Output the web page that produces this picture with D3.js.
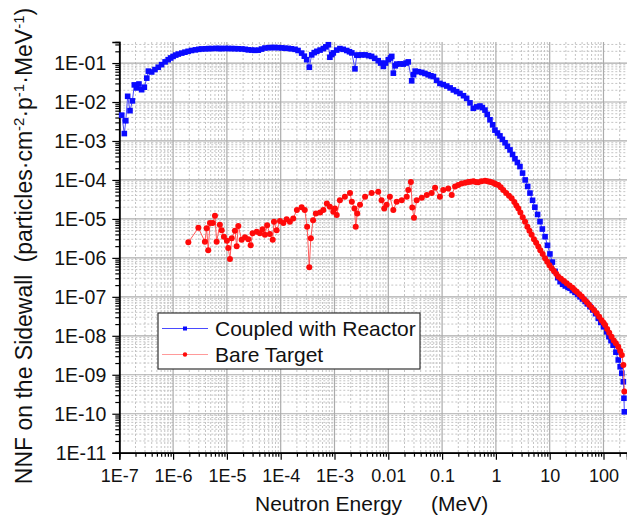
<!DOCTYPE html>
<html>
<head>
<meta charset="utf-8">
<script src="https://cdn.jsdelivr.net/npm/d3@7"></script>
<style>
  body { margin: 0; background: #fff; }
  svg { display: block; font-family: Arial, 'Liberation Sans', sans-serif; }
</style>
</head>
<body>
<div id="chart"></div>
<script>
// [energy (MeV), NNF]
const reactor = [
  [1.11e-7, 4.6e-3], [1.24e-7, 1.55e-3], [1.32e-7, 3.3e-3], [1.43e-7, 1.4e-2], [1.58e-7, 6.0e-3],
  [1.75e-7, 1.07e-2], [1.9e-7, 2.75e-2], [2.1e-7, 2.3e-2], [2.32e-7, 2.9e-2], [2.6e-7, 2.07e-2],
  [2.92e-7, 2.4e-2], [3.24e-7, 4.1e-2], [3.47e-7, 6.2e-2], [4.0e-7, 5.9e-2], [4.6e-7, 6.8e-2],
  [5.3e-7, 7.8e-2], [6.1e-7, 9.1e-2], [7.1e-7, 0.107], [8.1e-7, 0.122], [9.0e-7, 0.135],
  [1.0e-6, 0.148], [1.12e-6, 0.16], [1.25e-6, 0.17], [1.45e-6, 0.18], [1.66e-6, 0.19],
  [1.9e-6, 0.20], [2.2e-6, 0.21], [2.6e-6, 0.218], [3.0e-6, 0.225], [3.4e-6, 0.23],
  [4.0e-6, 0.232], [4.6e-6, 0.235], [5.2e-6, 0.235], [6.3e-6, 0.238], [7.2e-6, 0.236],
  [8.0e-6, 0.235], [9.3e-6, 0.237], [1.07e-5, 0.236], [1.23e-5, 0.235], [1.41e-5, 0.234],
  [1.62e-5, 0.232], [1.9e-5, 0.23], [2.2e-5, 0.225], [2.5e-5, 0.218], [2.9e-5, 0.215],
  [3.3e-5, 0.212], [3.84e-5, 0.214], [4.4e-5, 0.228], [5.1e-5, 0.243], [6.0e-5, 0.248],
  [6.9e-5, 0.25], [7.8e-5, 0.25], [9.1e-5, 0.248], [1.05e-4, 0.245], [1.2e-4, 0.24],
  [1.38e-4, 0.238], [1.58e-4, 0.232], [1.85e-4, 0.225], [2.1e-4, 0.21], [2.45e-4, 0.18],
  [2.75e-4, 0.15], [3.04e-4, 0.122], [3.4e-4, 0.078], [3.77e-4, 0.162], [4.2e-4, 0.185],
  [4.7e-4, 0.20], [5.4e-4, 0.215], [6.2e-4, 0.235], [6.9e-4, 0.26], [7.7e-4, 0.295],
  [8.2e-4, 0.141], [8.9e-4, 0.165], [9.5e-4, 0.182], [1.1e-3, 0.215], [1.26e-3, 0.235],
  [1.45e-3, 0.225], [1.69e-3, 0.21], [1.9e-3, 0.195], [2.1e-3, 0.182], [2.4e-3, 0.071],
  [2.6e-3, 0.16], [2.77e-3, 0.158], [3.2e-3, 0.162], [3.7e-3, 0.162], [4.3e-3, 0.155],
  [4.9e-3, 0.148], [5.6e-3, 0.132], [6.5e-3, 0.115], [7.2e-3, 0.10], [8.1e-3, 0.082],
  [8.9e-3, 0.10], [1.0e-2, 0.122], [1.1e-2, 0.135], [1.16e-2, 0.148], [1.24e-2, 0.055],
  [1.35e-2, 0.085], [1.43e-2, 0.094], [1.66e-2, 0.095], [1.9e-2, 0.094], [2.14e-2, 0.10],
  [2.35e-2, 0.107], [2.72e-2, 0.035], [2.95e-2, 0.05], [3.16e-2, 0.062], [3.63e-2, 0.06],
  [4.2e-2, 0.0575], [4.8e-2, 0.054], [5.5e-2, 0.05], [6.2e-2, 0.047], [6.9e-2, 0.045],
  [7.9e-2, 0.036], [9.1e-2, 0.030], [0.105, 0.028], [0.122, 0.0257], [0.141, 0.023],
  [0.162, 0.0204], [0.186, 0.0185], [0.215, 0.0166], [0.25, 0.0145], [0.286, 0.0124],
  [0.33, 0.0095], [0.38, 0.0069], [0.44, 0.0075], [0.506, 0.0079], [0.56, 0.0072],
  [0.627, 0.0062], [0.69, 0.0048], [0.776, 0.0035], [0.87, 0.0026], [0.96, 0.0019],
  [1.07, 1.6e-3], [1.19, 1.35e-3], [1.32, 1.1e-3], [1.48, 9.0e-4], [1.64, 7.3e-4],
  [1.83, 5.9e-4], [2.04, 4.5e-4], [2.26, 3.5e-4], [2.51, 2.8e-4], [2.8, 2.2e-4],
  [3.13, 1.5e-4], [3.5, 1.0e-4], [3.9, 6.8e-5], [4.3, 4.6e-5], [4.8, 3.0e-5],
  [5.3, 2.0e-5], [5.96, 1.3e-5], [6.6, 8.5e-6], [7.3, 5.5e-6], [8.2, 3.5e-6],
  [9.1, 2.1e-6], [10.1, 1.26e-6], [11.2, 7.8e-7], [12.6, 4.5e-7], [14.1, 3.1e-7],
  [15.6, 2.45e-7], [17.4, 2.1e-7], [19.5, 1.9e-7], [21.9, 1.75e-7], [23.9, 1.66e-7],
  [26.3, 1.45e-7], [29.5, 1.3e-7], [33.1, 1.15e-7], [36.6, 1.0e-7], [40.7, 8.8e-8],
  [45.7, 7.6e-8], [50.1, 6.6e-8], [56, 5.6e-8], [63, 4.6e-8], [71, 3.7e-8],
  [80, 2.8e-8], [89, 2.2e-8], [100, 1.7e-8], [115, 1.26e-8], [126, 9.5e-9],
  [138, 7.5e-9], [151, 5.75e-9], [170, 3.8e-9], [188, 2.4e-9], [204, 1.6e-9],
  [219, 1.1e-9], [234, 6.6e-10], [240, 2.5e-10], [244, 1.12e-10]
]

const bare = [
  [1.92e-6, 2.5e-6], [2.95e-6, 5.9e-6], [3.9e-6, 2.6e-6], [4.2e-6, 5.75e-6], [4.5e-6, 1.58e-6],
  [4.85e-6, 7.9e-6], [5.45e-6, 7.9e-6], [6.0e-6, 1.2e-5], [6.45e-6, 2.6e-6], [7.4e-6, 7.1e-6],
  [8.0e-6, 5.1e-6], [8.8e-6, 3.5e-6], [1.0e-5, 2.75e-6], [1.06e-5, 1.78e-6], [1.14e-5, 9.3e-7],
  [1.23e-5, 3.2e-6], [1.41e-5, 5.0e-6], [1.52e-5, 2.0e-6], [1.63e-5, 6.6e-6], [1.88e-5, 2.9e-6],
  [2.17e-5, 3.4e-6], [2.5e-5, 3.0e-6], [2.77e-5, 2.1e-6], [3.0e-5, 4.3e-6], [3.58e-5, 4.7e-6],
  [4.1e-5, 4.3e-6], [4.6e-5, 5.4e-6], [5.1e-5, 3.9e-6], [5.6e-5, 6.9e-6], [6.3e-5, 4.1e-6],
  [7.1e-5, 2.9e-6], [7.5e-5, 8.5e-6], [8.4e-5, 5.1e-6], [9.7e-5, 8.9e-6], [1.12e-4, 7.8e-6],
  [1.29e-4, 9.8e-6], [1.48e-4, 8.5e-6], [1.71e-4, 1.03e-5], [2.0e-4, 1.7e-5], [2.45e-4, 2.0e-5],
  [2.8e-4, 1.7e-5], [3.1e-4, 6.3e-6], [3.4e-4, 5.75e-7], [3.63e-4, 3.2e-6], [4.0e-4, 9.3e-6],
  [4.5e-4, 1.38e-5], [5.4e-4, 1.45e-5], [6.2e-4, 1.7e-5], [7.2e-4, 2.5e-5], [8.2e-4, 2.05e-5],
  [9.5e-4, 1.53e-5], [1.02e-3, 1.86e-5], [1.1e-3, 1.26e-5], [1.26e-3, 3.0e-5], [1.56e-3, 3.7e-5],
  [1.94e-3, 4.6e-5], [2.1e-3, 2.75e-5], [2.35e-3, 1.86e-5], [2.48e-3, 6.3e-6], [2.65e-3, 1.38e-5],
  [2.98e-3, 2.3e-5], [3.7e-3, 3.7e-5], [4.9e-3, 4.6e-5], [6.5e-3, 5.0e-5], [7.5e-3, 3.0e-5],
  [8.4e-3, 1.86e-5], [9.3e-3, 2.3e-5], [1.07e-2, 3.7e-5], [1.24e-2, 1.7e-5], [1.43e-2, 2.75e-5],
  [1.78e-2, 3.0e-5], [2.2e-2, 3.7e-5], [2.35e-2, 5.5e-5], [2.63e-2, 8.9e-5], [2.79e-2, 1.95e-5],
  [3.0e-2, 1.07e-5], [3.37e-2, 3.0e-5], [4.2e-2, 3.5e-5], [5.2e-2, 4.1e-5], [6.4e-2, 4.6e-5],
  [7.4e-2, 6.3e-5], [9.1e-2, 3.7e-5], [0.105, 5.5e-5], [0.13, 6.0e-5], [0.151, 4.1e-5],
  [0.174, 6.8e-5], [0.2, 7.4e-5], [0.231, 8.1e-5], [0.27, 8.5e-5], [0.307, 8.9e-5],
  [0.34, 9.0e-5], [0.38, 9.3e-5], [0.42, 8.9e-5], [0.47, 8.7e-5], [0.54, 9.2e-5],
  [0.627, 9.5e-5], [0.70, 9.3e-5], [0.76, 9.0e-5], [0.836, 8.7e-5], [0.93, 8.2e-5],
  [1.0, 7.8e-5], [1.11, 7.4e-5], [1.23, 6.5e-5], [1.37, 5.5e-5], [1.55, 4.6e-5],
  [1.75, 3.9e-5], [1.96, 3.4e-5], [2.2, 2.7e-5], [2.4, 2.2e-5], [2.61, 1.86e-5],
  [2.85, 1.45e-5], [3.15, 1.1e-5], [3.48, 8.5e-6], [3.85, 6.3e-6], [4.2, 5.0e-6],
  [4.62, 3.9e-6], [5.1, 3.0e-6], [5.6, 2.45e-6], [6.15, 1.95e-6], [6.7, 1.58e-6],
  [7.4, 1.25e-6], [8.2, 9.8e-7], [9.0, 7.9e-7], [9.9, 6.5e-7], [10.9, 5.4e-7],
  [12.0, 4.6e-7], [13.2, 3.9e-7], [14.5, 3.3e-7], [16.2, 2.9e-7], [18.4, 2.55e-7],
  [20.7, 2.24e-7], [23.4, 1.95e-7], [26.5, 1.7e-7], [29, 1.5e-7], [31.8, 1.35e-7],
  [35.5, 1.17e-7], [39.5, 1.02e-7], [44, 8.6e-8], [48.8, 7.4e-8], [54, 6.3e-8],
  [60, 5.3e-8], [67, 4.5e-8], [74.8, 3.8e-8], [83, 3.1e-8], [92, 2.5e-8],
  [100, 2.15e-8], [107, 1.9e-8], [117, 1.5e-8], [128, 1.2e-8], [141, 9.5e-9],
  [155, 7.6e-9], [170, 6.4e-9], [188, 5.25e-9], [204, 4.1e-9], [219, 3.2e-9],
  [234, 1.78e-9], [244, 3.7e-10]
]

const xTicks = [1e-7, 1e-6, 1e-5, 1e-4, 1e-3, 0.01, 0.1, 1, 10, 100]
const xTickLabels = ['1E-7', '1E-6', '1E-5', '1E-4', '1E-3', '0.01', '0.1', '1', '10', '100']
const yTicks = [1e-1, 1e-2, 1e-3, 1e-4, 1e-5, 1e-6, 1e-7, 1e-8, 1e-9, 1e-10, 1e-11]
const yTickLabels = ['1E-01', '1E-02', '1E-03', '1E-04', '1E-05', '1E-06', '1E-07', '1E-08', '1E-09', '1E-10', '1E-11']

const width = 627
const height = 517
const plotLeft = 119.3
const plotTop = 42
const plotBottom = 452.7
const decadeX = 53.8

const x = d3.scaleLog()
  .domain([1e-7, 1e-7 * Math.pow(10, (width - plotLeft) / decadeX)])
  .range([plotLeft, width])

const y = d3.scaleLog()
  .domain([1e-11, Math.pow(10, -0.46)])
  .range([plotBottom, plotTop])

const svg = d3.select('#chart')
  .append('svg')
  .attr('width', width)
  .attr('height', height)

// minor ticks: 2..9 within each decade
function minors(lo, hi) {
  const out = []
  for (let e = lo; e < hi; e++) {
    for (let m = 2; m <= 9; m++) out.push(m * Math.pow(10, e))
  }
  return out
}
const xMinor = minors(-7, 3).filter(v => x(v) <= width)
const yMinor = minors(-11, 0).filter(v => y(v) >= plotTop)

const grid = svg.append('g')
grid.selectAll('.vminor')
  .data(xMinor)
  .enter()
  .append('line')
  .attr('x1', d => x(d)).attr('x2', d => x(d))
  .attr('y1', plotTop).attr('y2', plotBottom)
  .attr('stroke', '#c4c4c4')
  .attr('stroke-dasharray', '2,2')
grid.selectAll('.hminor')
  .data(yMinor)
  .enter()
  .append('line')
  .attr('x1', plotLeft).attr('x2', width)
  .attr('y1', d => y(d)).attr('y2', d => y(d))
  .attr('stroke', '#c4c4c4')
  .attr('stroke-dasharray', '2,2')
grid.selectAll('.vmajor')
  .data(xTicks)
  .enter()
  .append('line')
  .attr('x1', d => x(d)).attr('x2', d => x(d))
  .attr('y1', plotTop).attr('y2', plotBottom)
  .attr('stroke', '#ababab')
  .attr('stroke-width', 1.2)
grid.selectAll('.hmajor')
  .data(yTicks)
  .enter()
  .append('line')
  .attr('x1', plotLeft).attr('x2', width)
  .attr('y1', d => y(d)).attr('y2', d => y(d))
  .attr('stroke', '#ababab')
  .attr('stroke-width', 1.2)

// axes
const xAxis = svg.append('g')
  .attr('transform', `translate(0,${plotBottom})`)
xAxis.append('g')
  .call(d3.axisBottom(x).tickValues(xMinor).tickSize(4).tickFormat(''))
xAxis.append('g')
  .call(d3.axisBottom(x).tickValues(xTicks).tickSize(7).tickFormat((d, i) => xTickLabels[i]))
  .selectAll('text')
  .attr('dy', 0)
  .attr('y', 29)
  .style('font-size', '18px')
  .style('fill', '#111')
xAxis.selectAll('.domain').attr('stroke', '#000').attr('stroke-width', 1.5)
xAxis.selectAll('.tick line').attr('stroke', '#000').attr('stroke-width', 1.2)

const yAxis = svg.append('g')
  .attr('transform', `translate(${plotLeft},0)`)
yAxis.append('g')
  .call(d3.axisLeft(y).tickValues(yMinor).tickSize(4).tickFormat(''))
yAxis.append('g')
  .call(d3.axisLeft(y).tickValues(yTicks).tickSize(7).tickFormat((d, i) => yTickLabels[i]))
  .selectAll('text')
  .attr('x', -13)
  .attr('dy', '0.35em')
  .style('font-size', '19.5px')
  .style('fill', '#111')
yAxis.selectAll('.domain').attr('stroke', '#000').attr('stroke-width', 1.5)
yAxis.selectAll('.tick line').attr('stroke', '#000').attr('stroke-width', 1.2)
svg.selectAll('.domain').attr('fill', 'none')

// series
const line = d3.line()
  .x(d => x(d[0]))
  .y(d => y(d[1]))

svg.append('path')
  .datum(reactor)
  .attr('d', line)
  .attr('fill', 'none')
  .attr('stroke', '#4a4aff')
  .attr('stroke-width', 1)

svg.append('g')
  .selectAll('rect')
  .data(reactor)
  .enter()
  .append('rect')
  .attr('x', d => x(d[0]) - 2.8)
  .attr('y', d => y(d[1]) - 2.8)
  .attr('width', 5.6)
  .attr('height', 5.6)
  .attr('fill', '#0a0aff')

svg.append('path')
  .datum(bare)
  .attr('d', line)
  .attr('fill', 'none')
  .attr('stroke', '#ff5a5a')
  .attr('stroke-width', 1)

svg.append('g')
  .selectAll('circle')
  .data(bare)
  .enter()
  .append('circle')
  .attr('cx', d => x(d[0]))
  .attr('cy', d => y(d[1]))
  .attr('r', 3)
  .attr('fill', '#ff0a0a')

// legend
const legend = svg.append('g').attr('transform', 'translate(158,313)')
legend.append('rect')
  .attr('width', 262)
  .attr('height', 56)
  .attr('fill', '#fff')
  .attr('stroke', '#333')
  .attr('stroke-width', 1.2)
const entries = [
  { name: 'Coupled with Reactor', line: '#4a4aff', fill: '#0a0aff', shape: 'square', y: 15.5 },
  { name: 'Bare Target', line: '#ff9a9a', fill: '#ff0a0a', shape: 'circle', y: 41.5 }
]
entries.forEach(e => {
  legend.append('line')
    .attr('x1', 4).attr('x2', 50)
    .attr('y1', e.y).attr('y2', e.y)
    .attr('stroke', e.line)
    .attr('stroke-width', 1.2)
  if (e.shape === 'square') {
    legend.append('rect')
      .attr('x', 25).attr('y', e.y - 2).attr('width', 4).attr('height', 4)
      .attr('fill', e.fill)
  } else {
    legend.append('circle')
      .attr('cx', 27).attr('cy', e.y).attr('r', 2.2)
      .attr('fill', e.fill)
  }
  legend.append('text')
    .attr('x', 57)
    .attr('y', e.y + 7)
    .style('font-size', '21px')
    .style('fill', '#111')
    .text(e.name)
})

// axis titles
svg.append('text')
  .attr('x', 255)
  .attr('y', 511)
  .style('font-size', '21px')
  .style('fill', '#111')
  .text('Neutron Energy')
  .append('tspan')
  .attr('dx', 29)
  .text('(MeV)')

const yTitle = svg.append('text')
  .attr('transform', 'translate(31.5,246) rotate(-90)')
  .attr('text-anchor', 'middle')
  .style('font-size', '23px')
  .style('fill', '#111')
yTitle.append('tspan').text('NNF on the Sidewall')
yTitle.append('tspan').attr('dx', 12).text('(particles·cm')
yTitle.append('tspan').attr('dy', -8).style('font-size', '15px').text('-2')
yTitle.append('tspan').attr('dy', 8).text('·p')
yTitle.append('tspan').attr('dy', -8).style('font-size', '15px').text('-1')
yTitle.append('tspan').attr('dy', 8).text('·MeV')
yTitle.append('tspan').attr('dy', -8).style('font-size', '15px').text('-1')
yTitle.append('tspan').attr('dy', 8).text(')')
</script>
</body>
</html>
